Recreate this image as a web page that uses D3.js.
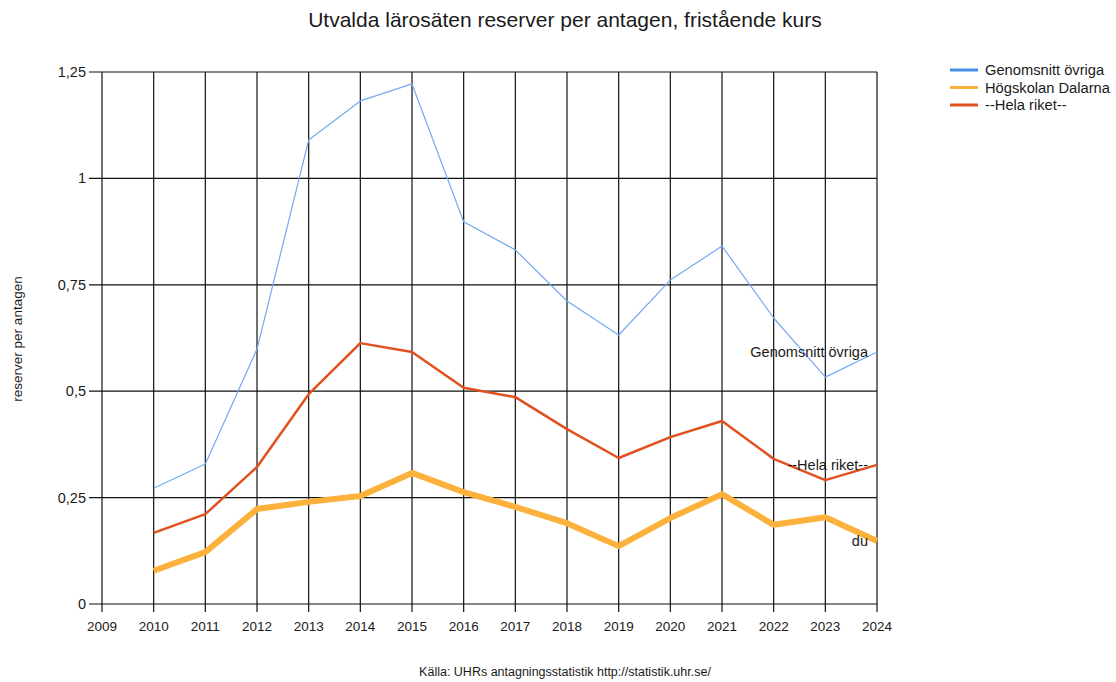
<!DOCTYPE html>
<html>
<head>
<meta charset="utf-8">
<script src="https://cdn.jsdelivr.net/npm/d3@7"></script>
<style>
  body { margin: 0; background: #fff; }
  text { font-family: "Liberation Sans", Arial, sans-serif; fill: #1a1a1a; }
</style>
</head>
<body>
<svg width="1116" height="682"></svg>
<script>
// data
const years = [2010, 2011, 2012, 2013, 2014, 2015, 2016, 2017, 2018, 2019, 2020, 2021, 2022, 2023, 2024];
const genomsnitt = [0.272, 0.329, 0.599, 1.09, 1.182, 1.222, 0.898, 0.832, 0.712, 0.632, 0.761, 0.841, 0.672, 0.533, 0.592];
const dalarna = [0.078, 0.122, 0.223, 0.240, 0.254, 0.308, 0.263, 0.228, 0.190, 0.136, 0.202, 0.258, 0.186, 0.204, 0.148];
const helaRiket = [0.167, 0.211, 0.322, 0.493, 0.613, 0.592, 0.508, 0.486, 0.411, 0.343, 0.392, 0.430, 0.341, 0.291, 0.327];
const yTicks = [0, 0.25, 0.5, 0.75, 1, 1.25];
const xTicks = d3.range(2009, 2025);

const series = [
  { name: 'Genomsnitt övriga', values: genomsnitt, color: '#74a9f2', width: 1.2, legendColor: '#4a8fe6', endLabel: 'Genomsnitt övriga' },
  { name: 'Högskolan Dalarna', values: dalarna, color: '#fbb13c', width: 6, legendColor: '#fbb13c', endLabel: 'du' },
  { name: '--Hela riket--', values: helaRiket, color: '#e2501f', width: 2.5, legendColor: '#e2501f', endLabel: '--Hela riket--' }
];

const svg = d3.select('svg');
const margin = { top: 72, right: 239, bottom: 78, left: 102 };
const width = 1116 - margin.left - margin.right;
const height = 682 - margin.top - margin.bottom;

const x = d3.scaleLinear().domain([2009, 2024]).range([0, width]);
const y = d3.scaleLinear().domain([0, 1.25]).range([height, 0]);

const g = svg.append('g').attr('transform', `translate(${margin.left},${margin.top})`);

// grid lines
g.append('g').selectAll('line').data(yTicks).enter().append('line')
  .attr('x1', -13).attr('x2', width)
  .attr('y1', d => y(d)).attr('y2', d => y(d))
  .attr('stroke', '#111').attr('stroke-width', 1.2);

g.append('g').selectAll('line').data(xTicks).enter().append('line')
  .attr('x1', d => x(d)).attr('x2', d => x(d))
  .attr('y1', 0).attr('y2', height + 8)
  .attr('stroke', '#111').attr('stroke-width', 1.2);

// axis labels
g.append('g').selectAll('text').data(yTicks).enter().append('text')
  .attr('x', -16).attr('y', d => y(d) + 5)
  .attr('text-anchor', 'end').style('font-size', '14.5px')
  .text(d => d3.format(',')(d).replace('.', ','));

g.append('g').selectAll('text').data(xTicks).enter().append('text')
  .attr('x', d => x(d)).attr('y', height + 27)
  .attr('text-anchor', 'middle').style('font-size', '13.5px')
  .text(d => d);

// lines
const line = d3.line().x((d, i) => x(years[i])).y(d => y(d));
series.forEach(s => {
  g.append('path').datum(s.values)
    .attr('d', line)
    .attr('fill', 'none')
    .attr('stroke', s.color)
    .attr('stroke-width', s.width)
    .attr('stroke-linejoin', 'round');
});

// end labels
series.forEach(s => {
  const last = s.values[s.values.length - 1];
  g.append('text')
    .attr('x', x(2024) - 9).attr('y', y(last) + 5)
    .attr('text-anchor', 'end').style('font-size', '14.5px')
    .text(s.endLabel);
});

// title
svg.append('text').attr('x', 565).attr('y', 27)
  .attr('text-anchor', 'middle').style('font-size', '21px')
  .text('Utvalda lärosäten reserver per antagen, fristående kurs');

// y axis title
svg.append('text')
  .attr('transform', 'translate(22,339) rotate(-90)')
  .attr('text-anchor', 'middle').style('font-size', '13.5px')
  .text('reserver per antagen');

// source
svg.append('text').attr('x', 565).attr('y', 676)
  .attr('text-anchor', 'middle').style('font-size', '12.5px')
  .text('Källa: UHRs antagningsstatistik http://statistik.uhr.se/');

// legend
const legend = svg.append('g').attr('transform', 'translate(950,70)');
legend.selectAll('line').data(series).enter().append('line')
  .attr('x1', 0).attr('x2', 28)
  .attr('y1', (d, i) => i * 17.5).attr('y2', (d, i) => i * 17.5)
  .attr('stroke', d => d.legendColor).attr('stroke-width', 3);
legend.selectAll('text').data(series).enter().append('text')
  .attr('x', 35).attr('y', (d, i) => i * 17.5 + 5)
  .style('font-size', '14.7px')
  .text(d => d.name);
</script>
</body>
</html>
